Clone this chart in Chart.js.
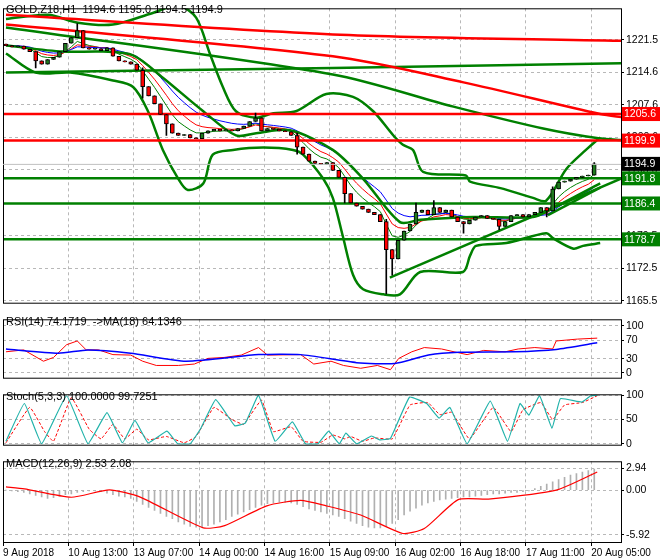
<!DOCTYPE html>
<html><head><meta charset="utf-8">
<script src="https://cdn.jsdelivr.net/npm/chart.js@4.4.1/dist/chart.umd.min.js"></script>
<style>
body{margin:0;background:#fff;}
#wrap{position:relative;width:660px;height:560px;font-family:"Liberation Sans",Arial,sans-serif;}
canvas{position:absolute;left:0;}
.hd{position:absolute;left:6px;font-size:11px;color:#000;white-space:pre;z-index:5;}
</style></head><body>
<div id="wrap">
<canvas id="c1" style="top:0"></canvas>
<canvas id="c2" style="top:311px"></canvas>
<canvas id="c3" style="top:386px"></canvas>
<canvas id="c4" style="top:453px"></canvas>
<div class="hd" style="top:3px">GOLD,Z18,H1  1194.6 1195.0 1194.5 1194.9</div>
<div class="hd" style="top:315px">RSI(14) 74.1719  ->MA(18) 64.1346</div>
<div class="hd" style="top:390px">Stoch(5,3,3) 100.0000 99.7251</div>
<div class="hd" style="top:457px">MACD(12,26,9) 2.53 2.08</div>
</div>
<script>
const timeLabels=['9 Aug 2018','10 Aug 13:00','13 Aug 07:00','14 Aug 00:00','14 Aug 16:00','15 Aug 09:00','16 Aug 02:00','16 Aug 18:00','17 Aug 11:00','20 Aug 05:00'];
const timeIdx=[0,11,22,33,44,55,66,77,88,99];
const closes=[1220.3,1220.0,1220.2,1219.5,1219.0,1217.0,1216.3,1217.3,1217.8,1219.0,
1220.8,1222.0,1223.5,1219.8,1219.5,1219.6,1219.2,1219.8,1218.0,1217.0,
1216.8,1216.3,1215.0,1211.5,1209.5,1207.8,1205.5,1203.5,1201.5,1201.0,
1201.2,1200.5,1200.3,1201.5,1202.0,1202.3,1202.0,1202.2,1202.0,1202.5,
1203.0,1204.0,1204.8,1202.0,1202.5,1202.3,1202.0,1201.8,1201.0,1198.5,
1197.0,1195.5,1195.0,1194.8,1195.2,1193.5,1192.0,1188.5,1186.5,1185.8,
1185.2,1184.5,1184.0,1182.5,1176.5,1174.5,1178.5,1180.5,1182.0,1184.5,
1185.0,1184.0,1185.5,1184.5,1185.0,1183.5,1182.5,1182.0,1182.8,1183.5,
1183.8,1183.2,1183.0,1181.5,1182.5,1183.8,1184.0,1183.5,1184.0,1184.5,
1185.5,1184.8,1189.5,1191.0,1191.2,1191.6,1192.0,1192.3,1192.5,1194.9];
const firstOpen=1220.6;
const wickHigh={12:1225.0,23:1215.5,42:1205.8,49:1201.5,57:1192.0,64:1183.0,69:1186.5,72:1187.0,92:1190.0,99:1195.2};
const wickLow={5:1215.5,23:1209.0,27:1201.0,49:1197.0,57:1186.5,64:1167.0,65:1171.0,77:1180.0,83:1180.8,91:1183.5};
const redTop=[[0,1226.9],[55,1222.7],[104,1221.3]];
const redSlope=[[0,1224.8],[55,1218.0],[77,1212.4],[100,1205.6],[104,1204.9]];
const greenSlope=[[0,1224.2],[55,1214.1],[75.3,1207.2],[90.4,1202.5],[99.7,1200.4],[104,1200.0]];
const greenFlat=[[0,1214.5],[55,1215.5],[104,1216.5]];
const redLevels=[1205.6,1199.9];
const greenLevels=[1191.8,1186.4,1178.7];
const trend1=[[64.6,1170.5],[104,1192.0]];
const trend2=[[91.2,1183.9],[100,1189.8]];
const upperBand=[[0,1226.0],[7.1,1226.9],[12.1,1225.2],[18,1224.8],[24.7,1227.3],[29,1228.9],[32,1226.3],[34.3,1218.6],[36.5,1211.4],[38.7,1206.2],[42.1,1204.8],[45,1205.8],[48.8,1206.2],[53.9,1209.9],[58.4,1209.3],[61.8,1206.2],[65.2,1201.0],[66.8,1199.0],[68.5,1197.9],[70.2,1193.2],[77.4,1192.4],[78.1,1191.1],[83.2,1189.7],[88.7,1187.6],[90.9,1187.0],[94.3,1193.8],[97.6,1197.9],[100,1200.6]];
const lowerBand=[[0,1218.6],[5,1214.5],[10.8,1214.5],[18,1212.8],[21.4,1211.4],[23.9,1206.2],[26.4,1197.9],[29,1191.7],[30.6,1189.3],[33.2,1190.7],[34.8,1196.9],[38.2,1197.9],[43.3,1198.4],[48.3,1197.9],[50,1196.9],[53.4,1191.7],[55,1187.6],[56.7,1179.3],[58.4,1171.1],[60.1,1168.0],[63.5,1166.9],[66.3,1166.9],[69.7,1171.7],[76.9,1171.7],[78.1,1175.2],[79.1,1177.3],[84.2,1177.9],[90.9,1180.0],[92.1,1178.9],[95.5,1176.7],[97.1,1177.3],[100,1177.9]];
const midBand=[[0,1220.3],[9.6,1219.0],[16.3,1219.0],[21.4,1218.2],[26.4,1213.4],[33.2,1206.2],[38.7,1201.0],[42.1,1201.5],[47.8,1202.1],[55,1197.9],[60.1,1191.7],[66.3,1182.4],[69.7,1182.9],[78.6,1183.5],[88.7,1183.5],[91.6,1185.1],[100,1190.7]];
const priceTicks=[1221.5,1214.6,1207.6,1200.6,1193.6,1186.5,1179.5,1172.5,1165.5];
const rsi=[[0,45],[3,49],[6.3,25],[8,33],[10.2,60],[12,68],[13.5,49],[15.6,49],[18,39],[21,38],[23,25],[25.3,16],[29,16],[31.7,19],[34,31],[36.7,33],[39.6,38],[42.5,54],[44,38],[49.6,39],[51.8,19],[54.7,25],[56.8,16],[59.7,10],[62.5,16],[64.7,7],[66.1,31],[68.3,45],[70.4,54],[73.3,51],[75.4,45],[77.6,39],[80.4,48],[84,45],[86.2,51],[89,54],[92,51],[92.6,68],[96.2,72],[99.5,74]];
const rsiMa=[[0,51],[8.8,42],[13.8,49],[21,42],[30.3,25],[42.5,39],[49.6,39],[59,22],[65.4,20],[71.1,38],[76.2,44],[85.5,45],[92.6,50],[99.5,64]];
const stochK=[[0,5],[3.1,83],[6,0],[10.2,99],[13.8,0],[17,64],[19.6,2],[21.7,48],[23.9,2],[27.1,26],[28.9,0],[31,0],[32.8,32],[35.3,91],[38.5,37],[40.3,43],[42.5,100],[45.3,5],[48.2,45],[50.4,0],[52.5,0],[54.3,26],[56.1,0],[57.2,22],[59,0],[61.5,16],[62.9,8],[64.7,11],[67.9,96],[70.8,83],[72.9,53],[74.7,75],[77.6,0],[81.5,88],[84.4,5],[86.5,83],[88,59],[89.8,99],[91.9,32],[93.3,93],[96.9,86],[98.4,99],[99.5,100]];
const stochD=[[0,2],[4,75],[6.5,25],[8,5],[11,95],[14,30],[16,10],[18,40],[20,10],[22,30],[24,8],[27,15],[30,2],[32,15],[35,75],[38,50],[40,40],[43,90],[45,25],[48,35],[50,5],[53,3],[55,18],[57,10],[58,15],[60,5],[62,12],[65,10],[68,80],[71,85],[73,60],[75,65],[78,10],[82,75],[85,25],[87,70],[90,85],[92,50],[94,80],[97,85],[99.5,99]];
const macdHist=[0,-0.1,-0.2,-0.3,-0.5,-0.7,-0.9,-1.1,-1.0,-0.8,-0.6,-0.5,-0.3,-0.2,-0.1,-0.1,-0.2,-0.4,-0.6,-0.8,-0.9,-1.1,-1.5,-1.9,-2.3,-2.7,-3.1,-3.5,-3.8,-4.2,-4.5,-4.8,-4.9,-4.9,-4.7,-4.5,-4.2,-3.9,-3.5,-3.2,-2.9,-2.6,-2.3,-2.0,-1.8,-1.7,-1.6,-1.6,-1.7,-1.9,-2.2,-2.5,-2.7,-2.9,-3.1,-3.3,-3.5,-3.8,-4.1,-4.4,-4.7,-4.9,-5.0,-5.0,-4.8,-4.4,-3.9,-3.3,-2.8,-2.4,-2.0,-1.7,-1.5,-1.3,-1.2,-1.1,-1.0,-0.9,-0.9,-0.8,-0.7,-0.6,-0.5,-0.5,-0.4,-0.3,-0.3,-0.2,-0.1,0.2,0.5,0.8,1.1,1.4,1.7,2.0,2.2,2.4,2.6,2.8];
const macdSignal=[[0,0.44],[3.1,0.16],[11,-0.94],[17.4,0.04],[22.4,-0.86],[33.2,-5.0],[36.8,-4.7],[43.9,-2.08],[49.6,-1.35],[53.9,-2.08],[59.7,-3.3],[66.8,-5.75],[70.4,-5.1],[76.1,-1.26],[81.2,-1.19],[92.6,0.0],[99.5,2.4]];

const opens=closes.map((c,i)=>i===0?firstOpen:closes[i-1]);
function ema(arr,p){const k=2/(p+1);let out=[],e=arr[0];arr.forEach((v,i)=>{e=i?v*k+e*(1-k):v;out.push(e);});return out;}
const pts=a=>a.map(p=>({x:p[0]+0.5,y:p[1]}));
const full=v=>[{x:0,y:v},{x:104,y:v}];
const ln=(data,color,w,extra)=>Object.assign({type:'line',data:pts(data),borderColor:color,borderWidth:w,pointRadius:0,tension:0.3,fill:false},extra||{});
const hl=(v,color)=>({type:'line',data:full(v),borderColor:color,borderWidth:2.5,pointRadius:0,fill:false});
const GREEN='#008000',RED='#ff0000';
const xCommon=(showTicks)=>({type:'linear',min:0,max:104,offset:false,afterBuildTicks:s=>{s.ticks=timeIdx.map(v=>({value:v}));},
  grid:{color:'#b8b8b8',offset:false,drawTicks:showTicks,tickLength:4,tickColor:'#000'},border:{dash:[3,3],display:false},
  ticks:{display:showTicks,autoSkip:false,maxRotation:0,align:'start',padding:1,color:'#000',font:{size:10,family:'Liberation Sans'},callback:(v)=>timeLabels[timeIdx.indexOf(v)]}});
const yCommon=(min,max,ticks,fmt)=>({position:'right',min,max,afterBuildTicks:s=>{s.ticks=ticks.map(v=>({value:v}));},
  afterFit:s=>{s.width=39;},grid:{color:'#b8b8b8',drawTicks:true,tickLength:3,tickColor:'#000'},border:{dash:[3,3],display:false},
  ticks:{color:'#000',padding:2,font:{size:10.5,family:'Liberation Sans'},callback:fmt}});
const frame={id:'frame',afterDraw(c){const a=c.chartArea,x=c.ctx;x.save();x.strokeStyle='#000';x.lineWidth=1;x.strokeRect(a.left+0.5,a.top+0.5,a.right-a.left,a.bottom-a.top);x.restore();}};
const clip={id:'clipx',beforeDatasetsDraw(c){const a=c.chartArea;c.ctx.save();c.ctx.beginPath();c.ctx.rect(a.left,a.top,a.right-a.left,a.bottom-a.top);c.ctx.clip();},afterDatasetsDraw(c){c.ctx.restore();}};
function mk(id,h,pad,datasets,y,showX,plugins){
  const cv=document.getElementById(id);cv.width=660;cv.height=h;
  return new Chart(cv,{type:'bar',data:{datasets},options:{responsive:false,animation:false,devicePixelRatio:1,
    layout:{padding:pad},plugins:{legend:{display:false},tooltip:{enabled:false}},
    scales:{x:xCommon(showX),y}},plugins:[clip,frame].concat(plugins||[])});
}
const boxes=[[1205.6,RED,'#fff'],[1199.9,RED,'#fff'],[1194.9,'#000','#fff'],[1191.8,GREEN,'#fff'],[1186.4,GREEN,'#fff'],[1178.7,GREEN,'#fff']];
const boxPlug={id:'boxes',afterDraw(c){const x=c.ctx,y=c.scales.y;x.save();x.font='10.5px "Liberation Sans"';x.textBaseline='middle';
  boxes.forEach(b=>{const py=y.getPixelForValue(b[0]);x.fillStyle=b[1];x.fillRect(622,py-7,38,14);x.fillStyle=b[2];x.fillText(b[0].toFixed(1),624,py+0.5);});
  const py=y.getPixelForValue(1194.9);x.strokeStyle='#c0c0c0';x.beginPath();x.moveTo(c.chartArea.left,py+0.5);x.lineTo(c.chartArea.right,py+0.5);x.stroke();x.restore();}};
const body=closes.map((c,i)=>({x:i+0.5,y:[opens[i],c]}));
const wick=closes.map((c,i)=>({x:i+0.5,y:[wickLow[i]!==undefined?wickLow[i]:Math.min(opens[i],c),wickHigh[i]!==undefined?wickHigh[i]:Math.max(opens[i],c)]}));
const bull=closes.map((c,i)=>c>=opens[i]);
const e1=ema(closes,5),e2=ema(closes,8),e3=ema(closes,13);
const emaPts=e=>e.map((v,i)=>[i,v]);
mk('c1',311,{top:3,bottom:2,left:3,right:0},[
  hl(redLevels[0],RED),hl(redLevels[1],RED),
  ...greenLevels.map(v=>hl(v,GREEN)),
  ln(redTop,RED,2.5),ln(redSlope,RED,2.5),ln(greenSlope,GREEN,2.5),ln(greenFlat,GREEN,2.5,{tension:0}),
  ln(upperBand,GREEN,2.5),ln(lowerBand,GREEN,2.5),ln(midBand,GREEN,2.5),
  ln(trend1,GREEN,2.5,{tension:0}),ln(trend2,GREEN,2.5,{tension:0}),
  ln(emaPts(e3),'#0000ff',1,{tension:0}),ln(emaPts(e2),RED,1,{tension:0}),ln(emaPts(e1),GREEN,1,{tension:0}),
  {type:'bar',data:wick,backgroundColor:'#000',barThickness:1,grouped:false,order:-1},
  {type:'bar',data:body,backgroundColor:bull.map(b=>b?'#1f7a1f':RED),borderColor:'#000',borderWidth:1,borderSkipped:false,barThickness:4,grouped:false,order:-2,minBarLength:1}
],yCommon(1165.1,1228.3,priceTicks,v=>v.toFixed(1)),false,[boxPlug]);
mk('c2',75,{top:2,bottom:1,left:3,right:0},[
  ln(rsiMa,'#0000ff',1.5,{tension:0.2}),ln(rsi,RED,1,{tension:0})
],yCommon(-10,114,[100,70,30,0],v=>String(v)),false);
mk('c3',67,{top:2,bottom:2,left:3,right:0},[
  ln(stochK,'#20b2aa',1.2,{tension:0.1}),ln(stochD,RED,1,{tension:0.1,borderDash:[3,2]})
],yCommon(-2,102,[100,80,50,20,0],v=>String(v)),false);
mk('c4',107,{top:1,bottom:0,left:3,right:0},[
  ln(macdSignal,RED,1.2,{tension:0.2}),
  {type:'bar',data:macdHist.map((v,i)=>({x:i+0.5,y:v})),backgroundColor:'#b0b0b0',barThickness:1,grouped:false}
],yCommon(-6.88,3.83,[2.94,0,-5.92],v=>v.toFixed(2)),true);
</script>
</body></html>
